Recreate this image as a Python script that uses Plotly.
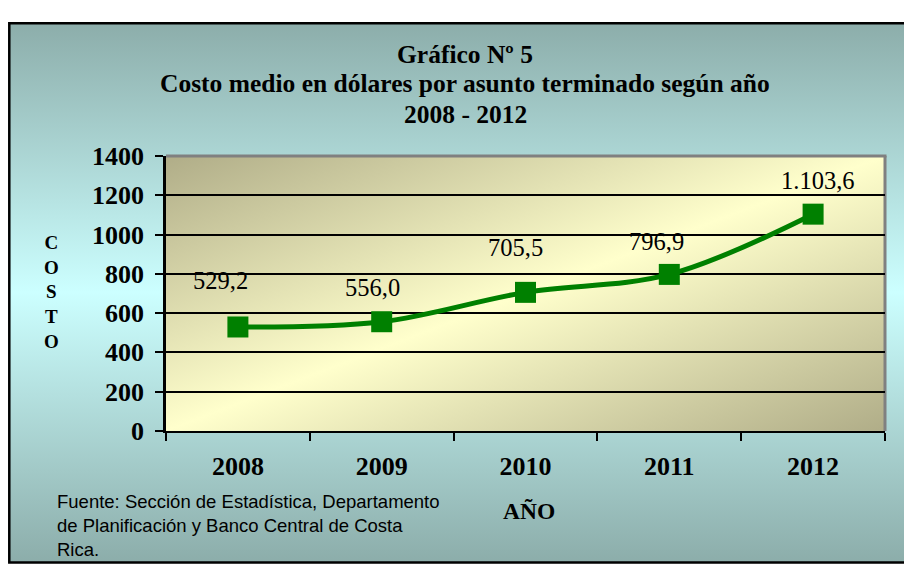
import base64
import plotly.graph_objects as go

# ---- data ----
years = ["2008", "2009", "2010", "2011", "2012"]
costs = [529.2, 556.0, 705.5, 796.9, 1103.6]
cost_labels = ["529,2", "556,0", "705,5", "796,9", "1.103,6"]
y_ticks = [0, 200, 400, 600, 800, 1000, 1200, 1400]

title_lines = ["Gráfico Nº 5",
               "Costo medio en dólares por asunto terminado según año",
               "2008 - 2012"]
source_text = ("Fuente: Sección de Estadística, Departamento<br>"
               "de Planificación y Banco Central de Costa<br>Rica.")

# ---- style ----
W, H = 912, 579
OFF = 8  # page body margin: figure is drawn 8px right/down of the window origin
PX0, PX1 = 166, 885          # plot area, window pixels
PY_TOP, PY_BOT = 149, 438.5
label_shift = [(-17, 46), (-9, 34), (-10, 45), (-13, 33), (5, 34)]
GREEN = "#008000"
SERIF = "Liberation Serif"


def px_x(x):
    return (x - OFF) / W


def px_y(y):
    return 1 - (y - OFF) / H


def svg_uri(svg):
    return "data:image/svg+xml;base64," + base64.b64encode(svg.encode()).decode()


def grad_svg(x2, y2, c_end, c_mid):
    return ('<svg xmlns="http://www.w3.org/2000/svg" width="100" height="100" '
            'viewBox="0 0 100 100" preserveAspectRatio="none">'
            f'<defs><linearGradient id="g" x1="0" y1="0" x2="{x2}" y2="{y2}">'
            f'<stop offset="0" stop-color="{c_end}"/>'
            f'<stop offset="0.5" stop-color="{c_mid}"/>'
            f'<stop offset="1" stop-color="{c_end}"/>'
            '</linearGradient></defs>'
            '<rect x="0" y="0" width="100" height="100" fill="url(#g)"/></svg>')


paper_svg = grad_svg(0, 1, "#8cadaa", "#ccffff")
plot_svg = grad_svg(1, 1, "#b0ad88", "#ffffcc")

fig = go.Figure()
fig.add_trace(go.Scatter(
    x=years, y=costs, mode="lines+markers",
    line=dict(color=GREEN, width=5, shape="spline", smoothing=1.0),
    marker=dict(symbol="square", size=21, color=GREEN),
    hoverinfo="skip", showlegend=False,
))

annotations = []
for i, (v, lab, (dx, dy)) in enumerate(zip(costs, cost_labels, label_shift)):
    annotations.append(dict(x=i, y=v, xref="x", yref="y", text=lab, showarrow=False,
                            xshift=dx, yshift=dy,
                            font=dict(family=SERIF, size=24.5, color="black")))

title_y = [42, 73, 105]
for t, yy in zip(title_lines, title_y):
    annotations.append(dict(x=px_x(465), y=px_y(yy), xref="paper", yref="paper",
                            text="<b>" + t + "</b>", showarrow=False,
                            xanchor="center", yanchor="middle",
                            font=dict(family=SERIF, size=25.5, color="black")))

annotations.append(dict(x=px_x(51), y=px_y(292), xref="paper", yref="paper",
                        text="<b>C<br>O<br>S<br>T<br>O</b>", showarrow=False,
                        xanchor="center", yanchor="middle", align="center",
                        font=dict(family=SERIF, size=19, color="black")))
annotations.append(dict(x=px_x(529), y=px_y(523), xref="paper", yref="paper",
                        text="<b>AÑO</b>", showarrow=False,
                        xanchor="center", yanchor="middle",
                        font=dict(family=SERIF, size=23.5, color="black")))
annotations.append(dict(x=px_x(55), y=px_y(538), xref="paper", yref="paper",
                        text=source_text, showarrow=False, align="left",
                        xanchor="left", yanchor="middle",
                        font=dict(family="Liberation Sans", size=18.5, color="black")))

shapes = [
    # outer frame
    dict(type="rect", xref="paper", yref="paper",
         x0=px_x(9.3), x1=px_x(910), y0=px_y(577), y1=px_y(9.3),
         line=dict(color="black", width=2.5), layer="above"),
    # plot area grey top and right edges
    dict(type="line", xref="paper", yref="paper",
         x0=px_x(PX0), x1=px_x(PX1 + 1.5), y0=px_y(PY_TOP), y1=px_y(PY_TOP),
         line=dict(color="#808080", width=3), layer="above"),
    dict(type="line", xref="paper", yref="paper",
         x0=px_x(PX1), x1=px_x(PX1), y0=px_y(PY_TOP), y1=px_y(PY_BOT),
         line=dict(color="#808080", width=3), layer="below"),
]

images = [
    dict(source=svg_uri(paper_svg), xref="paper", yref="paper",
         x=px_x(8), y=px_y(8), sizex=px_x(912) - px_x(8), sizey=px_y(8) - px_y(577),
         sizing="stretch", layer="below", xanchor="left", yanchor="top"),
    dict(source=svg_uri(plot_svg), xref="paper", yref="paper",
         x=px_x(PX0), y=px_y(PY_TOP), sizex=px_x(PX1) - px_x(PX0),
         sizey=px_y(PY_TOP) - px_y(PY_BOT),
         sizing="stretch", layer="below", xanchor="left", yanchor="top"),
]

fig.update_layout(
    width=W, height=H,
    margin=dict(l=0, r=0, t=0, b=0),
    paper_bgcolor="white",
    plot_bgcolor="rgba(0,0,0,0)",
    annotations=annotations,
    shapes=shapes,
    images=images,
    xaxis=dict(
        domain=[px_x(PX0), px_x(PX1)],
        type="category", range=[-0.5, 4.5],
        tickson="boundaries", ticks="outside", ticklen=8, tickwidth=2, tickcolor="black",
        showline=True, linecolor="black", linewidth=2,
        showgrid=False, zeroline=False,
        tickfont=dict(family=SERIF, size=26, color="black", weight="bold"),
        ticklabelstandoff=11,
    ),
    yaxis=dict(
        domain=[px_y(PY_BOT), px_y(PY_TOP)],
        range=[0, 1400], tickvals=y_ticks,
        ticks="outside", ticklen=8, tickwidth=2, tickcolor="black",
        showline=True, linecolor="black", linewidth=2.5,
        showgrid=True, gridcolor="black", gridwidth=2,
        zeroline=False,
        tickfont=dict(family=SERIF, size=26, color="black", weight="bold"),
        ticklabelstandoff=6,
    ),
)

fig.write_html("out.html", config={"displayModeBar": False})
